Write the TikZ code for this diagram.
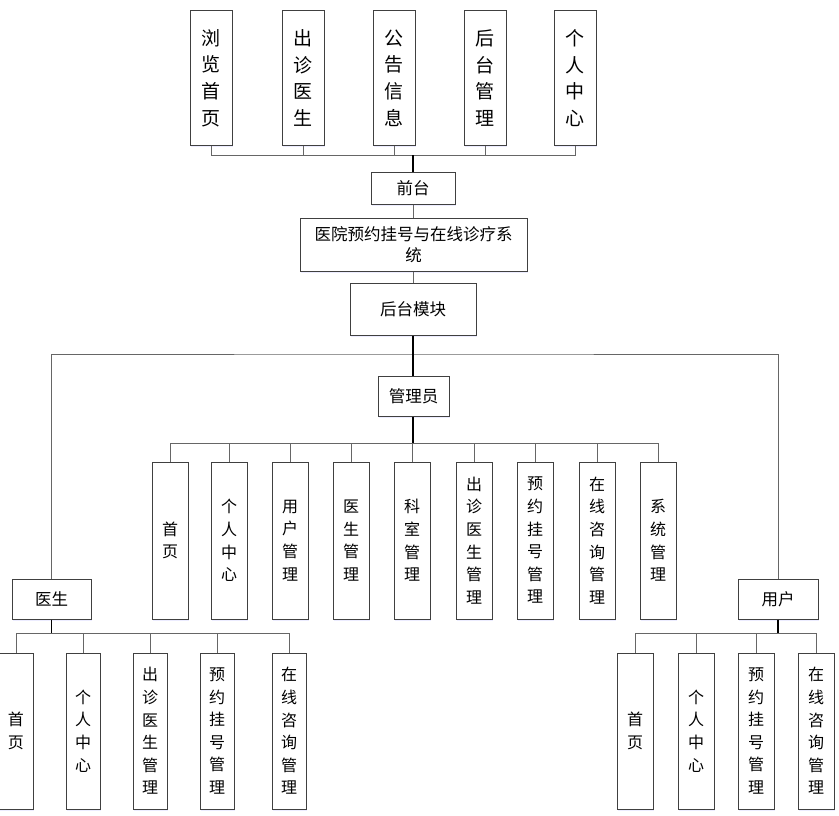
\documentclass[tikz,border=0pt]{standalone}
\usepackage{fontspec}
\setmainfont{Noto Sans CJK SC}
\usetikzlibrary{shadows}

\tikzset{
  box/.style={draw=black!75, line width=1pt, fill=white, inner sep=0pt, align=center,
    drop shadow={shadow xshift=1.2pt, shadow yshift=-1.5pt, fill=blue!25, opacity=0.3}},
  tallbox/.style={box, minimum width=42pt, minimum height=134pt, font=\fontsize{19}{26.7}\selectfont},
  leafbox/.style={box, minimum width=36pt, minimum height=157pt, font=\fontsize{16}{22.6}\selectfont},
  headbox/.style={box, font=\fontsize{16.5}{21}\selectfont},
  bus/.style={draw=black!60, line width=0.9pt},
  trunk/.style={draw=black, line width=1.4pt}
}

\begin{document}
\begin{tikzpicture}[x=1pt,y=-1pt]
\useasboundingbox (0,0) rectangle (839,816);

% front end and its pages
\node[headbox, minimum width=84pt, minimum height=32pt] (front) at (413,188) {前台};
\coordinate (front-bus) at (413,155);
\foreach[count=\xi] \x/\lbl in {211/浏\\览\\首\\页,303/出\\诊\\医\\生,394/公\\告\\信\\息,485/后\\台\\管\\理,575/个\\人\\中\\心}{ %\xi is the counter
\node[tallbox] (top-\xi) at (\x,78) {\lbl};
\draw[bus] (top-\xi.south) |- (front-bus);
}
\draw[trunk] (front-bus) -- (front.north);

% system and back end
\node[headbox, minimum width=227pt, minimum height=53pt] (sys) at (413.5,244.5) {医院预约挂号与在线诊疗系\\统};
\node[headbox, minimum width=126pt, minimum height=52pt] (back) at (413,309) {后台模块};
\draw[bus] (front.south) -- (front.south |- sys.north);
\draw[bus] (back.north |- sys.south) -- (back.north);

\coordinate (back-bus) at (413,354);
\node[headbox, minimum width=71pt, minimum height=40pt] (admin) at (413.5,396) {管理员};
\node[headbox, minimum width=79pt, minimum height=40pt] (doc) at (51.5,599) {医生};
\node[headbox, minimum width=80pt, minimum height=40pt] (user) at (778,599) {用户};
\draw[trunk] (back.south) -- (back-bus);
\draw[bus] (doc.north) |- (back-bus) -| (user.north);
\draw[trunk] (back-bus) -- (back-bus |- admin.north);

% administrator pages
\coordinate (admin-bus) at (413,443);
\draw[trunk] (admin-bus |- admin.south) -- (admin-bus);
\foreach[count=\xi] \x/\lbl in {170/首\\页,229/个\\人\\中\\心,290/用\\户\\管\\理,351/医\\生\\管\\理,412/科\\室\\管\\理,474/出\\诊\\医\\生\\管\\理,535/预\\约\\挂\\号\\管\\理,597/在\\线\\咨\\询\\管\\理,658/系\\统\\管\\理}{
\node[leafbox] (admin-\xi) at (\x,540.5) {\lbl};
\draw[bus] (admin-\xi.north) |- (admin-bus);
}

% doctor pages
\coordinate (doc-bus) at (51.5,633);
\draw[trunk] (doc.south) -- (doc-bus);
\foreach[count=\xi] \x/\lbl in {16/首\\页,83/个\\人\\中\\心,150/出\\诊\\医\\生\\管\\理,217/预\\约\\挂\\号\\管\\理,289/在\\线\\咨\\询\\管\\理}{
\node[leafbox, minimum width=34pt, minimum height=156pt] (doc-\xi) at (\x,731) {\lbl};
\draw[bus] (doc-\xi.north) |- (doc-bus);
}

% user pages
\coordinate (user-bus) at (778,633);
\draw[trunk] (user.south) -- (user-bus);
\foreach[count=\xi] \x/\lbl in {635/首\\页,696/个\\人\\中\\心,756/预\\约\\挂\\号\\管\\理,816/在\\线\\咨\\询\\管\\理}{
\node[leafbox, minimum height=156pt] (user-\xi) at (\x,731) {\lbl};
\draw[bus] (user-\xi.north) |- (user-bus);
}

\end{tikzpicture}
\end{document}
